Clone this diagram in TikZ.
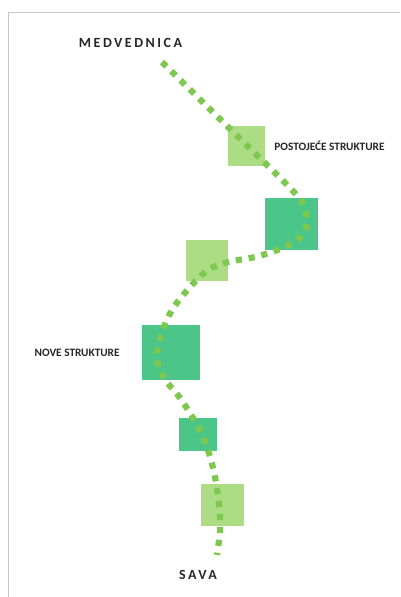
\documentclass[tikz,border=0pt]{standalone}
\usepackage{fontspec}
\setmainfont{Carlito}
\newfontfamily\titlefont[LetterSpace=18]{Carlito}
\usetikzlibrary{positioning}
\definecolor{lightgreen}{RGB}{172,220,132}
\definecolor{darkgreen}{RGB}{76,198,136}
\definecolor{dotgreen}{RGB}{126,200,80}
\definecolor{framegray}{RGB}{200,200,200}
\tikzset{
    oldblock/.style={fill=lightgreen, inner sep=0pt},
    newblock/.style={fill=darkgreen, inner sep=0pt},
    placename/.style={font=\titlefont\bfseries\fontsize{14}{16}\selectfont, text=black!85},
    legend/.style={font=\bfseries\fontsize{11.3}{13}\selectfont, text=black!85, inner sep=0pt}
}
\begin{document}
\begin{tikzpicture}[x=1pt, y=-1pt]
        \useasboundingbox (0, 0) rectangle (400, 597);
        \draw[framegray, line width=1.2pt] (8.5, 597) -- (8.5, 12.5) -- (400, 12.5);
        % structures along the stream
        \node[oldblock, minimum width=37pt, minimum height=40pt] (old1) at (246.5, 146) {};
        \node[newblock, minimum width=53pt, minimum height=52pt] (new1) at (291.5, 224) {};
        \node[oldblock, minimum width=42pt, minimum height=41pt] (old2) at (207, 260.5) {};
        \node[newblock, minimum width=58pt, minimum height=55pt] (new2) at (171, 352.5) {};
        \node[newblock, minimum width=38pt, minimum height=33pt] (new3) at (198, 434.5) {};
        \node[oldblock, minimum width=43pt, minimum height=42pt] (old3) at (222.5, 505) {};
        % stream
        \draw[dotgreen, line width=6.2pt, dash pattern=on 6.2pt off 6.8pt]
            plot[smooth, tension=0.55] coordinates {(162, 62) (228, 127) (293, 191) (305, 210) (306, 228) (297, 240) (280, 249) (255, 257) (228, 262) (208, 270) (190, 287) (172, 310) (161, 335) (157, 358) (164, 378) (180, 398) (197, 425) (208, 450) (215, 477) (219, 505) (220, 530) (217, 555)};
        % labels
        \node[placename] (medvednica) at (130.5, 43) {MEDVEDNICA};
        \node[placename] (sava) at (198, 575) {SAVA};
        \node[legend, right=9pt of old1] (postojece) {POSTOJEĆE STRUKTURE};
        \node[legend, left=22pt of new2] (nove) {NOVE STRUKTURE};
    \end{tikzpicture}
\end{document}
